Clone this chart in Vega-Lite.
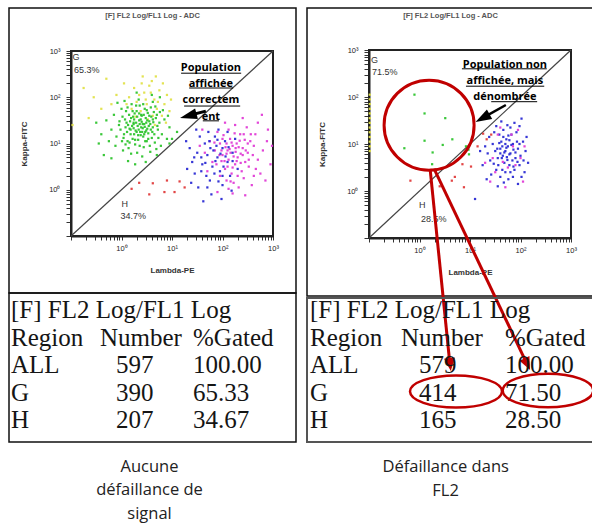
{
"$schema":"https://vega.github.io/schema/vega-lite/v6.json",
"background":"white",
"padding":{"left":8,"top":7,"right":0,"bottom":0},
"config":{"font":"Liberation Sans","view":{"stroke":"#111","strokeWidth":1.5}},
"datasets":{
"ptsL":[
{"lx":0.45,"ly":2.10,"c":"y"},{"lx":0.55,"ly":2.25,"c":"y"},{"lx":0.65,"ly":1.95,"c":"y"},{"lx":0.75,"ly":2.15,"c":"y"},{"lx":0.85,"ly":1.85,"c":"y"},{"lx":0.90,"ly":2.05,"c":"y"},{"lx":0.60,"ly":2.35,"c":"y"},{"lx":0.40,"ly":2.30,"c":"y"},{"lx":0.30,"ly":1.90,"c":"y"},{"lx":0.50,"ly":1.85,"c":"y"},
{"lx":0.70,"ly":1.75,"c":"y"},{"lx":0.80,"ly":1.60,"c":"y"},{"lx":0.35,"ly":2.05,"c":"y"},{"lx":0.25,"ly":2.20,"c":"y"},{"lx":0.15,"ly":2.00,"c":"y"},{"lx":0.95,"ly":1.70,"c":"y"},{"lx":0.62,"ly":1.60,"c":"y"},{"lx":0.48,"ly":1.95,"c":"y"},{"lx":0.58,"ly":2.10,"c":"y"},{"lx":0.72,"ly":1.90,"c":"y"},
{"lx":0.20,"ly":1.75,"c":"y"},{"lx":0.10,"ly":1.85,"c":"y"},{"lx":-0.10,"ly":2.05,"c":"y"},{"lx":-0.30,"ly":2.40,"c":"y"},{"lx":-0.55,"ly":2.00,"c":"y"},{"lx":-0.65,"ly":1.55,"c":"y"},{"lx":-0.97,"ly":1.40,"c":"y"},{"lx":-0.40,"ly":1.75,"c":"y"},{"lx":0.05,"ly":2.30,"c":"y"},{"lx":0.82,"ly":2.30,"c":"y"},
{"lx":0.68,"ly":2.45,"c":"y"},{"lx":0.38,"ly":1.70,"c":"y"},{"lx":0.52,"ly":1.52,"c":"y"},{"lx":0.88,"ly":1.45,"c":"y"},{"lx":0.28,"ly":1.58,"c":"y"},{"lx":-0.20,"ly":1.85,"c":"y"},{"lx":0.98,"ly":1.95,"c":"y"},{"lx":0.42,"ly":2.45,"c":"y"},{"lx":-0.75,"ly":2.20,"c":"y"},{"lx":0.66,"ly":1.40,"c":"y"},
{"lx":0.10,"ly":1.45,"c":"g"},{"lx":0.18,"ly":1.30,"c":"g"},{"lx":0.25,"ly":1.52,"c":"g"},{"lx":0.32,"ly":1.38,"c":"g"},{"lx":0.40,"ly":1.60,"c":"g"},{"lx":0.47,"ly":1.25,"c":"g"},{"lx":0.55,"ly":1.48,"c":"g"},{"lx":0.62,"ly":1.35,"c":"g"},{"lx":0.05,"ly":1.20,"c":"g"},{"lx":0.15,"ly":1.62,"c":"g"},
{"lx":0.22,"ly":1.10,"c":"g"},{"lx":0.30,"ly":1.70,"c":"g"},{"lx":0.38,"ly":1.18,"c":"g"},{"lx":0.45,"ly":1.42,"c":"g"},{"lx":0.52,"ly":1.66,"c":"g"},{"lx":0.60,"ly":1.12,"c":"g"},{"lx":0.68,"ly":1.55,"c":"g"},{"lx":0.12,"ly":1.05,"c":"g"},{"lx":0.28,"ly":1.28,"c":"g"},{"lx":0.35,"ly":1.50,"c":"g"},
{"lx":0.42,"ly":1.33,"c":"g"},{"lx":0.50,"ly":1.05,"c":"g"},{"lx":0.58,"ly":1.78,"c":"g"},{"lx":0.02,"ly":1.58,"c":"g"},{"lx":0.08,"ly":1.35,"c":"g"},{"lx":0.20,"ly":1.85,"c":"g"},{"lx":0.27,"ly":0.98,"c":"g"},{"lx":0.36,"ly":1.82,"c":"g"},{"lx":0.44,"ly":0.92,"c":"g"},{"lx":0.53,"ly":1.22,"c":"g"},
{"lx":0.64,"ly":1.68,"c":"g"},{"lx":0.72,"ly":1.30,"c":"g"},{"lx":-0.05,"ly":1.40,"c":"g"},{"lx":-0.10,"ly":1.15,"c":"g"},{"lx":0.00,"ly":1.75,"c":"g"},{"lx":0.14,"ly":0.90,"c":"g"},{"lx":0.24,"ly":1.42,"c":"g"},{"lx":0.33,"ly":1.08,"c":"g"},{"lx":0.40,"ly":1.47,"c":"g"},{"lx":0.48,"ly":1.55,"c":"g"},
{"lx":0.56,"ly":0.95,"c":"g"},{"lx":0.66,"ly":1.02,"c":"g"},{"lx":0.75,"ly":1.45,"c":"g"},{"lx":0.80,"ly":1.20,"c":"g"},{"lx":-0.15,"ly":1.62,"c":"g"},{"lx":-0.20,"ly":1.30,"c":"g"},{"lx":0.06,"ly":1.92,"c":"g"},{"lx":0.17,"ly":1.48,"c":"g"},{"lx":0.26,"ly":1.65,"c":"g"},{"lx":0.37,"ly":1.25,"c":"g"},
{"lx":0.46,"ly":1.75,"c":"g"},{"lx":0.54,"ly":1.38,"c":"g"},{"lx":0.62,"ly":1.90,"c":"g"},{"lx":0.70,"ly":1.62,"c":"g"},{"lx":0.85,"ly":1.52,"c":"g"},{"lx":0.90,"ly":1.10,"c":"g"},{"lx":-0.25,"ly":1.05,"c":"g"},{"lx":-0.30,"ly":1.50,"c":"g"},{"lx":0.03,"ly":0.85,"c":"g"},{"lx":0.19,"ly":0.78,"c":"g"},
{"lx":0.31,"ly":0.80,"c":"g"},{"lx":0.43,"ly":1.15,"c":"g"},{"lx":0.51,"ly":1.32,"c":"g"},{"lx":0.59,"ly":1.58,"c":"g"},{"lx":0.67,"ly":1.80,"c":"g"},{"lx":0.78,"ly":0.95,"c":"g"},{"lx":0.95,"ly":1.35,"c":"g"},{"lx":0.95,"ly":1.00,"c":"g"},{"lx":-0.35,"ly":0.75,"c":"g"},{"lx":-0.40,"ly":1.20,"c":"g"},
{"lx":0.09,"ly":1.70,"c":"g"},{"lx":0.23,"ly":1.58,"c":"g"},{"lx":0.34,"ly":1.95,"c":"g"},{"lx":0.41,"ly":0.72,"c":"g"},{"lx":0.57,"ly":0.82,"c":"g"},{"lx":0.73,"ly":1.12,"c":"g"},{"lx":0.82,"ly":1.72,"c":"g"},{"lx":1.00,"ly":1.10,"c":"g"},{"lx":-0.45,"ly":1.00,"c":"g"},{"lx":-0.12,"ly":0.95,"c":"g"},
{"lx":0.11,"ly":1.25,"c":"g"},{"lx":0.21,"ly":1.38,"c":"g"},{"lx":0.29,"ly":1.45,"c":"g"},{"lx":0.39,"ly":1.35,"c":"g"},{"lx":0.49,"ly":1.45,"c":"g"},{"lx":0.61,"ly":1.25,"c":"g"},{"lx":0.69,"ly":0.88,"c":"g"},{"lx":0.16,"ly":1.02,"c":"g"},{"lx":0.04,"ly":1.12,"c":"g"},{"lx":-0.02,"ly":1.30,"c":"g"},
{"lx":0.13,"ly":0.62,"c":"g"},{"lx":0.27,"ly":0.55,"c":"g"},{"lx":0.48,"ly":0.60,"c":"g"},{"lx":-0.20,"ly":0.68,"c":"g"},{"lx":0.70,"ly":0.75,"c":"g"},{"lx":0.60,"ly":2.05,"c":"g"},{"lx":0.30,"ly":2.10,"c":"g"},{"lx":-0.08,"ly":1.88,"c":"g"},{"lx":0.92,"ly":1.60,"c":"g"},{"lx":0.76,"ly":2.00,"c":"g"},
{"lx":-0.50,"ly":1.45,"c":"g"},{"lx":1.10,"ly":1.25,"c":"g"},{"lx":0.36,"ly":0.95,"c":"g"},{"lx":0.44,"ly":1.62,"c":"g"},{"lx":0.25,"ly":1.20,"c":"g"},
{"lx":0.07,"ly":1.52,"c":"g"},{"lx":0.13,"ly":1.40,"c":"g"},{"lx":0.19,"ly":1.55,"c":"g"},{"lx":0.24,"ly":1.33,"c":"g"},{"lx":0.31,"ly":1.58,"c":"g"},{"lx":0.36,"ly":1.42,"c":"g"},{"lx":0.41,"ly":1.25,"c":"g"},{"lx":0.46,"ly":1.36,"c":"g"},{"lx":0.51,"ly":1.50,"c":"g"},{"lx":0.57,"ly":1.42,"c":"g"},
{"lx":0.63,"ly":1.46,"c":"g"},{"lx":0.18,"ly":1.20,"c":"g"},{"lx":0.27,"ly":1.08,"c":"g"},{"lx":0.34,"ly":1.30,"c":"g"},{"lx":0.39,"ly":1.62,"c":"g"},{"lx":0.45,"ly":1.20,"c":"g"},{"lx":0.53,"ly":1.10,"c":"g"},{"lx":0.58,"ly":1.30,"c":"g"},{"lx":0.71,"ly":1.38,"c":"g"},{"lx":0.12,"ly":1.78,"c":"g"},
{"lx":0.22,"ly":1.70,"c":"g"},{"lx":0.29,"ly":1.82,"c":"g"},{"lx":0.43,"ly":1.85,"c":"g"},{"lx":0.50,"ly":1.72,"c":"g"},{"lx":0.62,"ly":1.52,"c":"g"},{"lx":0.76,"ly":1.68,"c":"g"},{"lx":0.08,"ly":0.98,"c":"g"},{"lx":0.16,"ly":1.32,"c":"g"},{"lx":0.33,"ly":1.18,"c":"g"},{"lx":0.47,"ly":1.05,"c":"g"},
{"lx":-0.04,"ly":1.48,"c":"g"},{"lx":0.01,"ly":1.05,"c":"g"},{"lx":0.38,"ly":1.52,"c":"g"},{"lx":0.55,"ly":1.60,"c":"g"},{"lx":0.65,"ly":1.20,"c":"g"},{"lx":0.24,"ly":1.45,"c":"g"},{"lx":0.30,"ly":1.25,"c":"g"},{"lx":0.42,"ly":1.42,"c":"g"},{"lx":0.49,"ly":1.28,"c":"g"},{"lx":0.35,"ly":1.65,"c":"g"},
{"lx":2.10,"ly":0.85,"c":"m"},{"lx":2.20,"ly":0.95,"c":"m"},{"lx":2.00,"ly":0.75,"c":"m"},{"lx":2.30,"ly":0.70,"c":"m"},{"lx":2.15,"ly":1.10,"c":"m"},{"lx":1.95,"ly":1.00,"c":"m"},{"lx":2.40,"ly":0.90,"c":"m"},{"lx":2.25,"ly":0.55,"c":"m"},{"lx":2.05,"ly":0.45,"c":"m"},{"lx":2.35,"ly":1.20,"c":"m"},
{"lx":2.50,"ly":0.80,"c":"m"},{"lx":1.85,"ly":0.85,"c":"m"},{"lx":2.12,"ly":0.65,"c":"m"},{"lx":2.28,"ly":1.00,"c":"m"},{"lx":1.90,"ly":1.25,"c":"m"},{"lx":2.45,"ly":0.60,"c":"m"},{"lx":2.60,"ly":0.75,"c":"m"},{"lx":2.18,"ly":0.35,"c":"m"},{"lx":2.02,"ly":1.18,"c":"m"},{"lx":2.38,"ly":0.40,"c":"m"},
{"lx":2.55,"ly":1.05,"c":"m"},{"lx":2.70,"ly":0.65,"c":"m"},{"lx":1.80,"ly":0.60,"c":"m"},{"lx":2.08,"ly":0.20,"c":"m"},{"lx":2.22,"ly":0.15,"c":"m"},{"lx":2.42,"ly":0.25,"c":"m"},{"lx":1.75,"ly":1.05,"c":"m"},{"lx":2.65,"ly":1.20,"c":"m"},{"lx":2.80,"ly":0.85,"c":"m"},{"lx":2.90,"ly":1.30,"c":"m"},
{"lx":2.95,"ly":0.55,"c":"m"},{"lx":2.48,"ly":1.35,"c":"m"},{"lx":2.25,"ly":1.40,"c":"m"},{"lx":2.05,"ly":1.45,"c":"m"},{"lx":1.70,"ly":0.40,"c":"m"},{"lx":2.32,"ly":0.05,"c":"m"},{"lx":2.12,"ly":0.02,"c":"m"},{"lx":1.95,"ly":0.30,"c":"m"},{"lx":2.75,"ly":0.35,"c":"m"},{"lx":2.58,"ly":0.10,"c":"m"},
{"lx":1.65,"ly":0.80,"c":"m"},{"lx":2.52,"ly":0.50,"c":"m"},{"lx":2.16,"ly":0.80,"c":"m"},{"lx":2.26,"ly":0.82,"c":"m"},{"lx":2.36,"ly":0.78,"c":"m"},{"lx":2.06,"ly":0.92,"c":"m"},{"lx":1.98,"ly":0.62,"c":"m"},{"lx":2.44,"ly":1.08,"c":"m"},{"lx":2.62,"ly":0.95,"c":"m"},{"lx":2.85,"ly":0.20,"c":"m"},
{"lx":1.60,"ly":1.30,"c":"m"},{"lx":1.55,"ly":0.95,"c":"m"},{"lx":2.88,"ly":1.05,"c":"m"},{"lx":2.70,"ly":1.45,"c":"m"},{"lx":2.20,"ly":-0.08,"c":"m"},{"lx":1.90,"ly":-0.05,"c":"m"},{"lx":2.45,"ly":-0.12,"c":"m"},{"lx":2.98,"ly":0.95,"c":"m"},{"lx":2.78,"ly":1.62,"c":"m"},{"lx":2.40,"ly":1.55,"c":"m"},
{"lx":2.14,"ly":0.88,"c":"m"},{"lx":2.22,"ly":0.72,"c":"m"},{"lx":2.32,"ly":0.92,"c":"m"},{"lx":2.08,"ly":0.78,"c":"m"},{"lx":2.18,"ly":1.02,"c":"m"},{"lx":2.28,"ly":0.62,"c":"m"},{"lx":2.40,"ly":0.75,"c":"m"},{"lx":1.98,"ly":0.85,"c":"m"},{"lx":2.10,"ly":0.50,"c":"m"},{"lx":2.34,"ly":1.06,"c":"m"},
{"lx":2.46,"ly":0.85,"c":"m"},{"lx":2.24,"ly":1.22,"c":"m"},{"lx":2.00,"ly":1.10,"c":"m"},{"lx":2.12,"ly":1.30,"c":"m"},{"lx":2.30,"ly":0.30,"c":"m"},{"lx":2.52,"ly":0.65,"c":"m"},{"lx":2.56,"ly":1.20,"c":"m"},{"lx":1.88,"ly":0.55,"c":"m"},{"lx":2.66,"ly":0.45,"c":"m"},{"lx":2.20,"ly":0.48,"c":"m"},
{"lx":2.04,"ly":0.62,"c":"m"},{"lx":2.36,"ly":0.58,"c":"m"},{"lx":2.16,"ly":0.18,"c":"m"},{"lx":2.50,"ly":1.00,"c":"m"},{"lx":1.94,"ly":0.75,"c":"m"},{"lx":2.26,"ly":0.90,"c":"m"},{"lx":2.42,"ly":1.20,"c":"m"},{"lx":2.62,"ly":0.30,"c":"m"},{"lx":1.84,"ly":1.02,"c":"m"},{"lx":2.08,"ly":1.00,"c":"m"},
{"lx":1.90,"ly":0.70,"c":"b"},{"lx":2.00,"ly":0.90,"c":"b"},{"lx":1.80,"ly":0.50,"c":"b"},{"lx":2.10,"ly":0.60,"c":"b"},{"lx":1.95,"ly":0.40,"c":"b"},{"lx":1.70,"ly":0.75,"c":"b"},{"lx":2.05,"ly":1.05,"c":"b"},{"lx":1.85,"ly":1.15,"c":"b"},{"lx":2.15,"ly":0.30,"c":"b"},{"lx":1.60,"ly":0.55,"c":"b"},
{"lx":1.75,"ly":0.20,"c":"b"},{"lx":2.00,"ly":0.10,"c":"b"},{"lx":1.88,"ly":0.95,"c":"b"},{"lx":2.20,"ly":0.80,"c":"b"},{"lx":1.65,"ly":1.00,"c":"b"},{"lx":1.50,"ly":0.80,"c":"b"},{"lx":1.45,"ly":0.35,"c":"b"},{"lx":1.55,"ly":1.15,"c":"b"},{"lx":1.40,"ly":0.60,"c":"b"},{"lx":2.25,"ly":1.10,"c":"b"},
{"lx":1.78,"ly":-0.10,"c":"b"},{"lx":1.98,"ly":-0.20,"c":"b"},{"lx":1.52,"ly":0.05,"c":"b"},{"lx":1.35,"ly":0.90,"c":"b"},{"lx":1.30,"ly":0.45,"c":"b"},{"lx":2.10,"ly":1.25,"c":"b"},{"lx":1.92,"ly":1.30,"c":"b"},{"lx":2.30,"ly":0.45,"c":"b"},{"lx":1.68,"ly":0.30,"c":"b"},{"lx":1.82,"ly":0.85,"c":"b"},
{"lx":2.02,"ly":0.50,"c":"b"},{"lx":1.72,"ly":1.25,"c":"b"},{"lx":1.62,"ly":-0.25,"c":"b"},{"lx":1.48,"ly":1.30,"c":"b"},{"lx":2.18,"ly":-0.02,"c":"b"},{"lx":1.38,"ly":0.15,"c":"b"},{"lx":1.28,"ly":1.05,"c":"b"},{"lx":1.58,"ly":0.70,"c":"b"},
{"lx":1.86,"ly":0.62,"c":"b"},{"lx":1.96,"ly":0.78,"c":"b"},{"lx":1.76,"ly":0.90,"c":"b"},{"lx":2.06,"ly":0.72,"c":"b"},{"lx":1.84,"ly":0.35,"c":"b"},{"lx":1.66,"ly":0.58,"c":"b"},{"lx":1.92,"ly":0.18,"c":"b"},{"lx":2.12,"ly":0.92,"c":"b"},{"lx":1.58,"ly":0.40,"c":"b"},{"lx":1.74,"ly":1.05,"c":"b"},
{"lx":1.90,"ly":1.08,"c":"b"},{"lx":2.00,"ly":0.30,"c":"b"},{"lx":1.70,"ly":0.05,"c":"b"},{"lx":1.44,"ly":0.70,"c":"b"},{"lx":2.20,"ly":0.62,"c":"b"},
{"lx":0.35,"ly":0.15,"c":"r"},{"lx":0.62,"ly":0.14,"c":"r"},{"lx":0.20,"ly":0.02,"c":"r"},{"lx":0.85,"ly":-0.05,"c":"r"},{"lx":1.15,"ly":0.18,"c":"r"},{"lx":1.25,"ly":0.05,"c":"r"},{"lx":0.55,"ly":-0.10,"c":"r"},{"lx":1.05,"ly":-0.05,"c":"r"},{"lx":0.90,"ly":0.20,"c":"r"}
],
"ptsR":[
{"lx":-0.985,"ly":2.05,"c":"y"},{"lx":-0.985,"ly":1.95,"c":"y"},{"lx":-0.985,"ly":1.85,"c":"y"},{"lx":-0.985,"ly":1.75,"c":"y"},{"lx":-0.985,"ly":1.65,"c":"y"},{"lx":-0.985,"ly":1.55,"c":"y"},{"lx":-0.985,"ly":1.45,"c":"y"},{"lx":-0.985,"ly":1.35,"c":"y"},{"lx":-0.985,"ly":1.25,"c":"y"},{"lx":-0.985,"ly":1.15,"c":"y"},{"lx":-0.985,"ly":1.05,"c":"y"},{"lx":-0.985,"ly":0.95,"c":"y"},{"lx":-0.985,"ly":0.85,"c":"y"},
{"lx":0.10,"ly":1.65,"c":"g"},{"lx":0.51,"ly":1.55,"c":"g"},{"lx":0.10,"ly":1.07,"c":"g"},{"lx":0.46,"ly":0.98,"c":"g"},{"lx":0.65,"ly":1.10,"c":"g"},{"lx":-0.30,"ly":0.91,"c":"g"},{"lx":0.26,"ly":0.82,"c":"g"},{"lx":0.25,"ly":0.57,"c":"g"},{"lx":0.97,"ly":0.88,"c":"g"},{"lx":0.98,"ly":0.78,"c":"g"},{"lx":0.92,"ly":0.95,"c":"g"},{"lx":-0.10,"ly":2.05,"c":"g"},
{"lx":1.70,"ly":0.85,"c":"b"},{"lx":1.75,"ly":0.95,"c":"b"},{"lx":1.65,"ly":0.75,"c":"b"},{"lx":1.80,"ly":0.80,"c":"b"},{"lx":1.60,"ly":0.90,"c":"b"},{"lx":1.85,"ly":1.00,"c":"b"},{"lx":1.72,"ly":1.10,"c":"b"},{"lx":1.55,"ly":0.70,"c":"b"},{"lx":1.90,"ly":0.70,"c":"b"},{"lx":1.68,"ly":0.60,"c":"b"},
{"lx":1.78,"ly":0.55,"c":"b"},{"lx":1.50,"ly":0.85,"c":"b"},{"lx":1.62,"ly":1.05,"c":"b"},{"lx":1.95,"ly":0.90,"c":"b"},{"lx":2.00,"ly":0.75,"c":"b"},{"lx":1.45,"ly":1.00,"c":"b"},{"lx":1.82,"ly":1.20,"c":"b"},{"lx":1.58,"ly":1.20,"c":"b"},{"lx":1.40,"ly":0.65,"c":"b"},{"lx":1.88,"ly":0.45,"c":"b"},
{"lx":1.70,"ly":0.40,"c":"b"},{"lx":1.52,"ly":0.45,"c":"b"},{"lx":2.05,"ly":1.05,"c":"b"},{"lx":1.98,"ly":0.55,"c":"b"},{"lx":1.35,"ly":0.80,"c":"b"},{"lx":1.92,"ly":1.25,"c":"b"},{"lx":1.66,"ly":1.30,"c":"b"},{"lx":1.48,"ly":1.25,"c":"b"},{"lx":1.30,"ly":0.95,"c":"b"},{"lx":2.10,"ly":0.85,"c":"b"},
{"lx":1.76,"ly":0.25,"c":"b"},{"lx":1.60,"ly":0.30,"c":"b"},{"lx":1.85,"ly":0.30,"c":"b"},{"lx":1.42,"ly":0.35,"c":"b"},{"lx":2.02,"ly":0.30,"c":"b"},{"lx":1.25,"ly":0.55,"c":"b"},{"lx":1.55,"ly":0.10,"c":"b"},{"lx":1.95,"ly":0.15,"c":"b"},{"lx":1.20,"ly":0.85,"c":"b"},{"lx":2.15,"ly":0.60,"c":"b"},
{"lx":1.74,"ly":1.40,"c":"b"},{"lx":1.88,"ly":1.45,"c":"b"},{"lx":2.02,"ly":1.54,"c":"b"},{"lx":1.38,"ly":1.15,"c":"b"},{"lx":1.64,"ly":0.95,"c":"b"},{"lx":1.84,"ly":0.65,"c":"b"},{"lx":1.56,"ly":0.55,"c":"b"},{"lx":1.73,"ly":0.72,"c":"b"},{"lx":1.93,"ly":1.05,"c":"b"},{"lx":2.12,"ly":1.15,"c":"b"},
{"lx":1.47,"ly":0.58,"c":"b"},{"lx":1.67,"ly":0.18,"c":"b"},{"lx":1.80,"ly":1.35,"c":"b"},{"lx":1.10,"ly":-0.17,"c":"b"},{"lx":1.33,"ly":0.25,"c":"b"},{"lx":2.08,"ly":0.40,"c":"b"},{"lx":1.52,"ly":1.38,"c":"b"},{"lx":1.62,"ly":1.48,"c":"b"},{"lx":1.78,"ly":1.08,"c":"b"},{"lx":1.98,"ly":1.38,"c":"b"},
{"lx":1.72,"ly":0.92,"c":"b"},{"lx":1.68,"ly":0.82,"c":"b"},{"lx":1.78,"ly":0.78,"c":"b"},{"lx":1.74,"ly":0.66,"c":"b"},{"lx":1.63,"ly":0.70,"c":"b"},{"lx":1.86,"ly":0.88,"c":"b"},{"lx":1.82,"ly":0.98,"c":"b"},{"lx":1.60,"ly":0.80,"c":"b"},{"lx":1.70,"ly":1.00,"c":"b"},{"lx":1.90,"ly":0.82,"c":"b"},
{"lx":1.76,"ly":1.18,"c":"b"},{"lx":1.66,"ly":1.15,"c":"b"},{"lx":1.58,"ly":1.02,"c":"b"},{"lx":1.86,"ly":0.52,"c":"b"},{"lx":1.94,"ly":0.62,"c":"b"},{"lx":1.54,"ly":0.90,"c":"b"},{"lx":1.98,"ly":1.00,"c":"b"},{"lx":1.80,"ly":0.40,"c":"b"},{"lx":1.64,"ly":0.45,"c":"b"},{"lx":2.06,"ly":0.65,"c":"b"},
{"lx":1.55,"ly":1.20,"c":"m"},{"lx":1.82,"ly":1.20,"c":"m"},{"lx":1.50,"ly":0.40,"c":"m"},{"lx":1.70,"ly":0.08,"c":"m"},{"lx":2.00,"ly":0.70,"c":"m"},{"lx":1.45,"ly":0.70,"c":"m"},{"lx":1.85,"ly":0.95,"c":"m"},{"lx":1.60,"ly":1.35,"c":"m"},{"lx":1.95,"ly":1.30,"c":"m"},{"lx":1.40,"ly":0.20,"c":"m"},
{"lx":1.75,"ly":0.50,"c":"m"},{"lx":2.05,"ly":0.20,"c":"m"},{"lx":1.30,"ly":0.60,"c":"m"},{"lx":1.65,"ly":0.62,"c":"m"},{"lx":1.90,"ly":0.55,"c":"m"},{"lx":2.08,"ly":0.95,"c":"m"},
{"lx":1.26,"ly":1.22,"c":"r"},{"lx":1.42,"ly":1.20,"c":"r"},{"lx":1.33,"ly":1.10,"c":"r"},{"lx":0.85,"ly":0.57,"c":"r"},{"lx":1.02,"ly":0.52,"c":"r"},{"lx":0.64,"ly":0.22,"c":"r"},{"lx":0.70,"ly":0.30,"c":"r"},{"lx":-0.18,"ly":0.22,"c":"r"},{"lx":0.40,"ly":0.10,"c":"r"},{"lx":0.88,"ly":0.08,"c":"r"},{"lx":1.15,"ly":0.95,"c":"r"}
],
"tabL":[
{"r":"title","c":"Region","t":"[F] FL2 Log/FL1 Log"},
{"r":"head","c":"Region","t":"Region"},{"r":"head","c":"Number","t":"Number"},{"r":"head","c":"%Gated","t":"%Gated"},
{"r":"ALL","c":"Region","t":"ALL"},{"r":"ALL","c":"Number","t":"597"},{"r":"ALL","c":"%Gated","t":"100.00"},
{"r":"G","c":"Region","t":"G"},{"r":"G","c":"Number","t":"390"},{"r":"G","c":"%Gated","t":"65.33"},
{"r":"H","c":"Region","t":"H"},{"r":"H","c":"Number","t":"207"},{"r":"H","c":"%Gated","t":"34.67"}
],
"tabR":[
{"r":"title","c":"Region","t":"[F] FL2 Log/FL1 Log"},
{"r":"head","c":"Region","t":"Region"},{"r":"head","c":"Number","t":"Number"},{"r":"head","c":"%Gated","t":"%Gated"},
{"r":"ALL","c":"Region","t":"ALL"},{"r":"ALL","c":"Number","t":"579"},{"r":"ALL","c":"%Gated","t":"100.00"},
{"r":"G","c":"Region","t":"G"},{"r":"G","c":"Number","t":"414"},{"r":"G","c":"%Gated","t":"71.50"},
{"r":"H","c":"Region","t":"H"},{"r":"H","c":"Number","t":"165"},{"r":"H","c":"%Gated","t":"28.50"}
]
},
"hconcat":[
{
"bounds":"flush",
"spacing":0,
"title":{"text":["Aucune","défaillance de","signal"],"orient":"bottom","anchor":"middle","offset":16,"dx":-3,"font":"Open Sans","fontSize":16.5,"fontWeight":"normal","color":"#222","lineHeight":23.5},
"vconcat":[
{
"width":287,"height":285,
"view":{"stroke":"#111","strokeWidth":1.5},
"title":{"text":"[F] FL2 Log/FL1 Log - ADC","fontSize":7.5,"fontWeight":"bold","color":"#555","font":"Liberation Sans","offset":-11,"anchor":"middle"},
"encoding":{
"x":{"field":"lx","type":"quantitative","scale":{"domain":[-1,3],"range":[62,264],"nice":false,"zero":false},
"axis":{"title":"Lambda-PE","offset":-57,"grid":false,"values":[-1,-0.699,-0.523,-0.398,-0.301,-0.222,-0.155,-0.097,-0.046,0,0.301,0.477,0.602,0.699,0.778,0.845,0.903,0.954,1,1.301,1.477,1.602,1.699,1.778,1.845,1.903,1.954,2,2.301,2.477,2.602,2.699,2.778,2.845,2.903,2.954,3],
"labelExpr":"datum.value % 1 == 0 && datum.value >= 0 ? '10' + (datum.value == 0 ? '⁰' : datum.value == 1 ? '¹' : datum.value == 2 ? '²' : '³') : ''",
"tickSize":4,"tickColor":"#333","tickWidth":1,"domainColor":"#222","domainWidth":2,
"labelFontSize":7.5,"labelColor":"#222","labelPadding":4,"labelFlush":false,"labelOverlap":false,
"titleFontSize":8,"titleFontWeight":"bold","titleColor":"#333","titlePadding":15}},
"y":{"field":"ly","type":"quantitative","scale":{"domain":[-1,3],"range":[228,43],"nice":false,"zero":false},
"axis":{"title":"Kappa-FITC","offset":-62,"grid":false,"values":[-1,-0.699,-0.523,-0.398,-0.301,-0.222,-0.155,-0.097,-0.046,0,0.301,0.477,0.602,0.699,0.778,0.845,0.903,0.954,1,1.301,1.477,1.602,1.699,1.778,1.845,1.903,1.954,2,2.301,2.477,2.602,2.699,2.778,2.845,2.903,2.954,3],
"labelExpr":"datum.value % 1 == 0 && datum.value >= 0 ? '10' + (datum.value == 0 ? '⁰' : datum.value == 1 ? '¹' : datum.value == 2 ? '²' : '³') : ''",
"tickSize":5,"tickColor":"#333","tickWidth":1,"domainColor":"#222","domainWidth":2,
"labelFontSize":7.5,"labelColor":"#222","labelPadding":6,"labelFlush":false,"labelOverlap":false,
"titleFontSize":8,"titleFontWeight":"bold","titleColor":"#333","titlePadding":20}}},
"layer":[
{"data":{"values":[{"lx":-1,"ly":-1,"lx2":3,"ly2":3}]},
"mark":{"type":"rect","fillOpacity":0,"stroke":"#222","strokeWidth":2},
"encoding":{"x2":{"field":"lx2"},"y2":{"field":"ly2"}}},
{"data":{"values":[{"lx":-1,"ly":-1,"lx2":3,"ly2":3}]},
"mark":{"type":"rule","stroke":"#444","strokeWidth":1.2},
"encoding":{"x2":{"field":"lx2"},"y2":{"field":"ly2"}}},
{"data":{"name":"ptsL"},
"mark":{"type":"square","size":5,"opacity":0.95},
"encoding":{"color":{"field":"c","type":"nominal","scale":{"domain":["y","g","m","b","r"],"range":["#e2e24a","#2ec42e","#e03cd6","#2b2bd4","#e03c3c"]},"legend":null}}},
{"data":{"values":[{"lx":-0.97,"ly":2.87,"t":"G"},{"lx":-0.94,"ly":2.59,"t":"65.3%"},{"lx":0.0,"ly":-0.31,"t":"H"},{"lx":-0.02,"ly":-0.57,"t":"34.7%"}]},
"mark":{"type":"text","align":"left","baseline":"middle","fontSize":9,"color":"#333"},
"encoding":{"text":{"field":"t"}}},
{"data":{"values":[{"lx":1.77,"ly":2.57,"t":"Population\naffichée\ncorrectem\nent"}]},
"mark":{"type":"text","align":"center","baseline":"alphabetic","font":"Open Sans","fontSize":11,"fontWeight":"bold","color":"#000","lineBreak":"\n","lineHeight":16.3},
"encoding":{"text":{"field":"t"}}},
{"data":{"values":[{"lx":1.18,"lx2":2.37,"ly":2.52},{"lx":1.34,"lx2":2.21,"ly":2.20},{"lx":1.24,"lx2":2.35,"ly":1.81},{"lx":1.61,"lx2":1.93,"ly":1.49}]},
"mark":{"type":"rule","stroke":"#000","strokeWidth":1},
"encoding":{"x2":{"field":"lx2"}}},
{"data":{"values":[{"lx":1.67,"ly":1.70,"lx2":1.35,"ly2":1.61}]},
"mark":{"type":"rule","stroke":"#000","strokeWidth":3},
"encoding":{"x2":{"field":"lx2"},"y2":{"field":"ly2"}}},
{"data":{"values":[{"lx":1.16,"ly":1.55}]},
"mark":{"type":"point","shape":"M0,0L1,-0.32L1,0.32Z","size":1156,"filled":true,"color":"#000","opacity":1,"angle":345}}
]
},
{
"width":287,"height":149,
"view":{"stroke":"#111","strokeWidth":1.5},
"data":{"name":"tabL"},
"encoding":{
"x":{"field":"c","type":"nominal","scale":{"type":"point","domain":["Region","Number","%Gated"],"range":[2,184],"padding":0},"axis":null},
"y":{"field":"r","type":"nominal","scale":{"type":"point","domain":["title","head","ALL","G","H"],"range":[25,135],"padding":0},"axis":null}},
"layer":[
{"transform":[{"filter":"datum.c != 'Number'"}],"mark":{"type":"text","align":"left","baseline":"alphabetic","font":"Liberation Serif","fontSize":25,"color":"#151515"},"encoding":{"text":{"field":"t"}}},
{"transform":[{"filter":"datum.c == 'Number' && datum.r == 'head'"}],"mark":{"type":"text","align":"left","baseline":"alphabetic","font":"Liberation Serif","fontSize":25,"color":"#151515","dx":-2},"encoding":{"text":{"field":"t"}}},
{"transform":[{"filter":"datum.c == 'Number' && datum.r != 'head'"}],"mark":{"type":"text","align":"left","baseline":"alphabetic","font":"Liberation Serif","fontSize":25,"color":"#151515","dx":14},"encoding":{"text":{"field":"t"}}}
]
}
]
},
{
"bounds":"flush",
"spacing":2,
"title":{"text":["Défaillance dans","FL2"],"orient":"bottom","anchor":"middle","offset":16,"dx":-7,"font":"Open Sans","fontSize":16.5,"fontWeight":"normal","color":"#222","lineHeight":23.5},
"vconcat":[
{
"width":287,"height":288,
"view":{"stroke":"#111","strokeWidth":1.5},
"title":{"text":"[F] FL2 Log/FL1 Log - ADC","fontSize":7.5,"fontWeight":"bold","color":"#555","font":"Liberation Sans","offset":-11,"anchor":"middle"},
"encoding":{
"x":{"field":"lx","type":"quantitative","scale":{"domain":[-1,3],"range":[62,264],"nice":false,"zero":false},
"axis":{"title":"Lambda-PE","offset":-58,"grid":false,"values":[-1,-0.699,-0.523,-0.398,-0.301,-0.222,-0.155,-0.097,-0.046,0,0.301,0.477,0.602,0.699,0.778,0.845,0.903,0.954,1,1.301,1.477,1.602,1.699,1.778,1.845,1.903,1.954,2,2.301,2.477,2.602,2.699,2.778,2.845,2.903,2.954,3],
"labelExpr":"datum.value % 1 == 0 && datum.value >= 0 ? '10' + (datum.value == 0 ? '⁰' : datum.value == 1 ? '¹' : datum.value == 2 ? '²' : '³') : ''",
"tickSize":4,"tickColor":"#333","tickWidth":1,"domainColor":"#222","domainWidth":2,
"labelFontSize":7.5,"labelColor":"#222","labelPadding":4,"labelFlush":false,"labelOverlap":false,
"titleFontSize":8,"titleFontWeight":"bold","titleColor":"#333","titlePadding":15}},
"y":{"field":"ly","type":"quantitative","scale":{"domain":[-1,3],"range":[230,42],"nice":false,"zero":false},
"axis":{"title":"Kappa-FITC","offset":-62,"grid":false,"values":[-1,-0.699,-0.523,-0.398,-0.301,-0.222,-0.155,-0.097,-0.046,0,0.301,0.477,0.602,0.699,0.778,0.845,0.903,0.954,1,1.301,1.477,1.602,1.699,1.778,1.845,1.903,1.954,2,2.301,2.477,2.602,2.699,2.778,2.845,2.903,2.954,3],
"labelExpr":"datum.value % 1 == 0 && datum.value >= 0 ? '10' + (datum.value == 0 ? '⁰' : datum.value == 1 ? '¹' : datum.value == 2 ? '²' : '³') : ''",
"tickSize":5,"tickColor":"#333","tickWidth":1,"domainColor":"#222","domainWidth":2,
"labelFontSize":7.5,"labelColor":"#222","labelPadding":6,"labelFlush":false,"labelOverlap":false,
"titleFontSize":8,"titleFontWeight":"bold","titleColor":"#333","titlePadding":20}}},
"layer":[
{"data":{"values":[{"lx":-1,"ly":-1,"lx2":3,"ly2":3}]},
"mark":{"type":"rect","fillOpacity":0,"stroke":"#222","strokeWidth":2},
"encoding":{"x2":{"field":"lx2"},"y2":{"field":"ly2"}}},
{"data":{"values":[{"lx":-1,"ly":-1,"lx2":3,"ly2":3}]},
"mark":{"type":"rule","stroke":"#444","strokeWidth":1.2},
"encoding":{"x2":{"field":"lx2"},"y2":{"field":"ly2"}}},
{"data":{"name":"ptsR"},
"mark":{"type":"square","size":5,"opacity":0.95},
"encoding":{"color":{"field":"c","type":"nominal","scale":{"domain":["y","g","m","b","r"],"range":["#e2e24a","#2ec42e","#e03cd6","#2b2bd4","#e03c3c"]},"legend":null}}},
{"data":{"values":[{"lx":-0.96,"ly":2.79,"t":"G"},{"lx":-0.94,"ly":2.53,"t":"71.5%"},{"lx":-0.01,"ly":-0.30,"t":"H"},{"lx":0.03,"ly":-0.59,"t":"28.5%"}]},
"mark":{"type":"text","align":"left","baseline":"middle","fontSize":9,"color":"#333"},
"encoding":{"text":{"field":"t"}}},
{"data":{"values":[{"lx":1.69,"ly":2.62,"t":"Population non\naffichée, mais\ndénombrée"}]},
"mark":{"type":"text","align":"center","baseline":"alphabetic","font":"Open Sans","fontSize":11,"fontWeight":"bold","color":"#000","lineBreak":"\n","lineHeight":16.3},
"encoding":{"text":{"field":"t"}}},
{"data":{"values":[{"lx":0.84,"lx2":2.52,"ly":2.60},{"lx":0.92,"lx2":2.47,"ly":2.23},{"lx":1.42,"lx2":2.33,"ly":1.90}]},
"mark":{"type":"rule","stroke":"#000","strokeWidth":1},
"encoding":{"x2":{"field":"lx2"}}},
{"data":{"values":[{"lx":1.71,"ly":1.83,"lx2":1.28,"ly2":1.57}]},
"mark":{"type":"rule","stroke":"#000","strokeWidth":2.5},
"encoding":{"x2":{"field":"lx2"},"y2":{"field":"ly2"}}},
{"data":{"values":[{"lx":1.11,"ly":1.47}]},
"mark":{"type":"point","shape":"M0,0L1,-0.34L1,0.34Z","size":1024,"filled":true,"color":"#000","opacity":1,"angle":331}},
{"data":{"values":[{"lx":0.19,"ly":1.40}]},
"mark":{"type":"point","shape":"circle","size":8100,"filled":false,"color":"#c00000","strokeWidth":3,"opacity":1}},
{"data":{"values":[{"lx":0.21,"ly":0.47,"lx2":0.60,"ly2":-3.66},{"lx":0.29,"ly":0.47,"lx2":2.12,"ly2":-3.66}]},
"mark":{"type":"rule","stroke":"#c00000","strokeWidth":3},
"encoding":{"x2":{"field":"lx2"},"y2":{"field":"ly2"}}},
{"data":{"values":[{"lx":0.62,"ly":-3.83}]},
"mark":{"type":"point","shape":"M0,0L1,-0.42L1,0.42Z","size":676,"filled":true,"color":"#c00000","opacity":1,"angle":264}},
{"data":{"values":[{"lx":2.19,"ly":-3.81}]},
"mark":{"type":"point","shape":"M0,0L1,-0.42L1,0.42Z","size":676,"filled":true,"color":"#c00000","opacity":1,"angle":244.5}}
]
},
{
"width":287,"height":144,
"view":{"stroke":"#555","strokeWidth":2},
"data":{"name":"tabR"},
"encoding":{
"x":{"field":"c","type":"nominal","scale":{"type":"point","domain":["Region","Number","%Gated"],"range":[3,198],"padding":0},"axis":null},
"y":{"field":"r","type":"nominal","scale":{"type":"point","domain":["title","head","ALL","G","H"],"range":[20,130],"padding":0},"axis":null}},
"layer":[
{"transform":[{"filter":"datum.c != 'Number'"}],"mark":{"type":"text","align":"left","baseline":"alphabetic","font":"Liberation Serif","fontSize":25,"color":"#151515"},"encoding":{"text":{"field":"t"}}},
{"transform":[{"filter":"datum.c == 'Number' && datum.r == 'head'"}],"mark":{"type":"text","align":"left","baseline":"alphabetic","font":"Liberation Serif","fontSize":25,"color":"#151515","dx":-6.5},"encoding":{"text":{"field":"t"}}},
{"transform":[{"filter":"datum.c == 'Number' && datum.r != 'head'"}],"mark":{"type":"text","align":"left","baseline":"alphabetic","font":"Liberation Serif","fontSize":25,"color":"#151515","dx":11.5},"encoding":{"text":{"field":"t"}}},
{"transform":[{"filter":"datum.c == 'Number' && datum.r == 'G'"}],"mark":{"type":"point","shape":"M-1,0A1,0.35 0 1,1 1,0A1,0.35 0 1,1 -1,0Z","size":8464,"filled":false,"color":"#c00000","strokeWidth":2.5,"opacity":1,"xOffset":48.5,"yOffset":-9}},
{"transform":[{"filter":"datum.c == '%Gated' && datum.r == 'G'"}],"mark":{"type":"point","shape":"M-1,0A1,0.37 0 1,1 1,0A1,0.37 0 1,1 -1,0Z","size":8200,"filled":false,"color":"#c00000","strokeWidth":2.5,"opacity":1,"xOffset":43,"yOffset":-10}}
]
}
]
}
],
"spacing":9
}
